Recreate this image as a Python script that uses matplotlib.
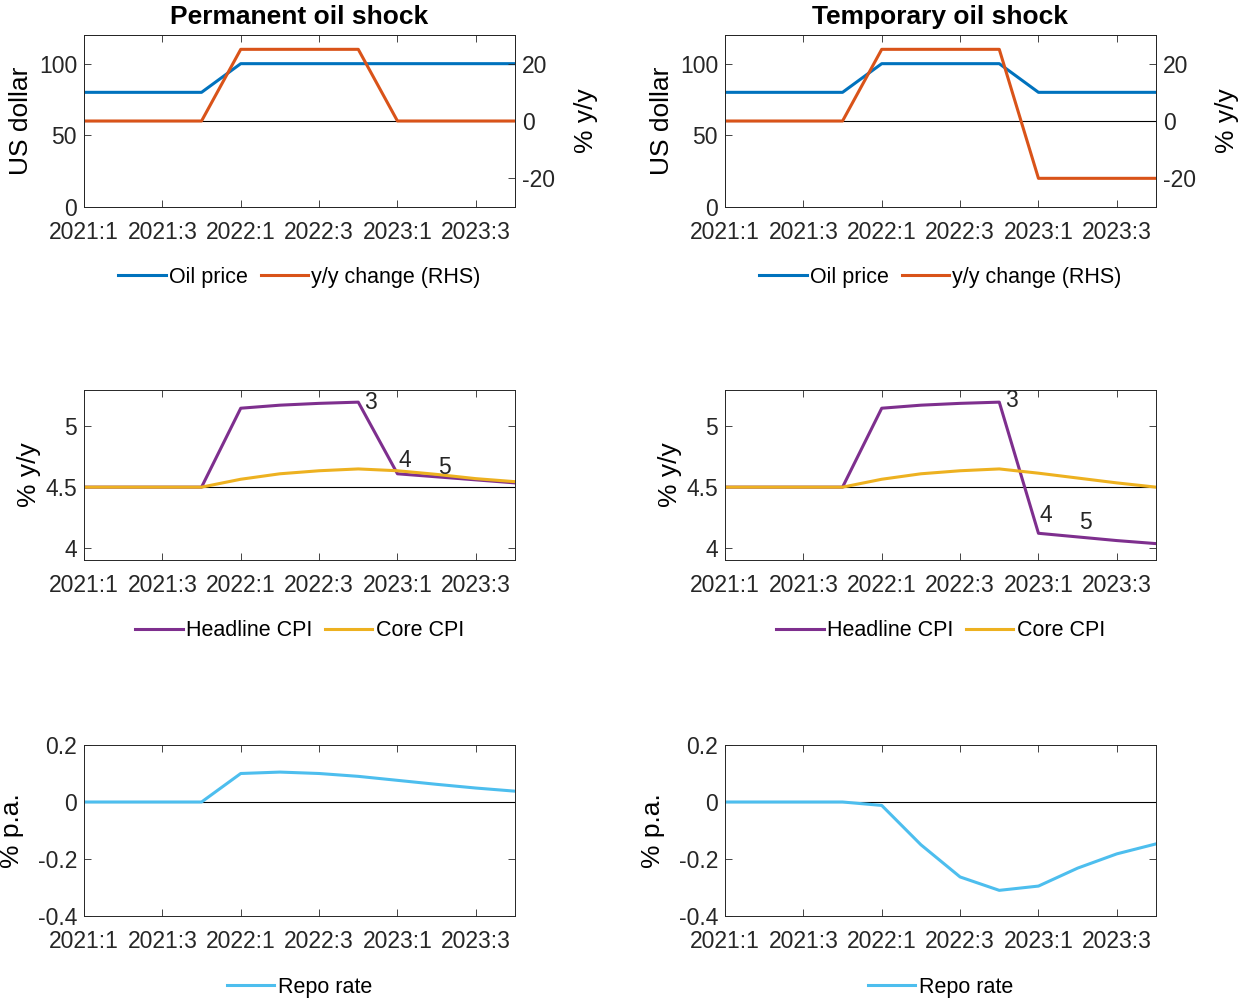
import matplotlib.pyplot as plt

plt.rcParams['font.family'] = ['Liberation Sans', 'DejaVu Sans']
plt.rcParams['font.size'] = 16
plt.rcParams['axes.unicode_minus'] = False

# Data (quarterly, 2021:1 - 2023:4)
quarters = ['2021:1', '2021:2', '2021:3', '2021:4', '2022:1', '2022:2', '2022:3', '2022:4',
            '2023:1', '2023:2', '2023:3', '2023:4']
tick_labels = ['2021:1', '2021:3', '2022:1', '2022:3', '2023:1', '2023:3']

oil_perm = [80, 80, 80, 80, 100, 100, 100, 100, 100, 100, 100, 100]
yy_perm = [0, 0, 0, 0, 25, 25, 25, 25, 0, 0, 0, 0]
oil_temp = [80, 80, 80, 80, 100, 100, 100, 100, 80, 80, 80, 80]
yy_temp = [0, 0, 0, 0, 25, 25, 25, 25, -20, -20, -20, -20]

head_perm = [4.5, 4.5, 4.5, 4.5, 5.15, 5.175, 5.19, 5.20, 4.61, 4.585, 4.56, 4.535]
core_perm = [4.5, 4.5, 4.5, 4.5, 4.565, 4.61, 4.635, 4.65, 4.635, 4.605, 4.57, 4.545]
head_temp = [4.5, 4.5, 4.5, 4.5, 5.15, 5.175, 5.19, 5.20, 4.12, 4.09, 4.06, 4.035]
core_temp = [4.5, 4.5, 4.5, 4.5, 4.565, 4.61, 4.635, 4.65, 4.615, 4.575, 4.535, 4.50]

repo_perm = [0, 0, 0, 0, 0.10, 0.105, 0.10, 0.09, 0.076, 0.062, 0.049, 0.038]
repo_temp = [0, 0, 0, 0, -0.012, -0.15, -0.263, -0.31, -0.295, -0.232, -0.182, -0.147]

# labels "3","4","5" next to headline CPI
lab_text = ['3', '4', '5']
lab_x = [7.3, 8.2, 9.2]
lab_y_perm = [5.20, 4.72, 4.665]
lab_y_temp = [5.21, 4.27, 4.205]

BLUE = '#0072BD'
ORANGE = '#D95319'
YELLOW = '#EDB120'
PURPLE = '#7E2F8E'
LBLUE = '#4DBEEE'
TXT = '#262626'

W, H = 1239, 999
fig = plt.figure(figsize=(W / 100, H / 100), dpi=100)

x = list(range(len(quarters)))
tick_pos = [quarters.index(t) for t in tick_labels]


def make_ax(left, top, right, bottom):
    ax = fig.add_axes([left / W, 1 - bottom / H, (right - left) / W, (bottom - top) / H])
    ax.set_xlim(0, 11)
    ax.set_xticks(tick_pos)
    ax.set_xticklabels(tick_labels)
    ax.tick_params(direction='in', top=True, right=True, length=5, width=0.6,
                   pad=5, colors=TXT, labelcolor=TXT, labelsize=16.5)
    ax.tick_params(axis='x', pad=10)
    for s in ax.spines.values():
        s.set_color(TXT)
        s.set_linewidth(0.7)
    return ax


def legend_below(ax, handles, labels, ypix):
    pos = ax.get_position()
    fig.legend(handles, labels, loc='center', ncol=len(labels), frameon=False,
               bbox_to_anchor=((pos.x0 + pos.x1) / 2, 1 - ypix / H),
               handlelength=2.2, handletextpad=0.15, columnspacing=0.6, fontsize=15.5)


cols = [(84, 515), (725, 1156)]
rows = [(35, 207), (390, 560), (745, 916)]
titles = ['Permanent oil shock', 'Temporary oil shock']
oils = [oil_perm, oil_temp]
yys = [yy_perm, yy_temp]
heads = [head_perm, head_temp]
cores = [core_perm, core_temp]
repos = [repo_perm, repo_temp]
lab_ys = [lab_y_perm, lab_y_temp]

for c, (l, r) in enumerate(cols):
    # Row 1: oil price
    ax = make_ax(l, rows[0][0], r, rows[0][1])
    ax.tick_params(right=False)
    h1, = ax.plot(x, oils[c], color=BLUE, lw=2.2)
    ax.set_ylim(0, 120)
    ax.set_yticks([0, 50, 100])
    ax.set_ylabel('US dollar', fontsize=19, labelpad=4)
    ax.set_title(titles[c], fontsize=19, fontweight='bold', pad=8)
    ax2 = ax.twinx()
    ax2.axhline(0, color='black', lw=0.8)
    h2, = ax2.plot(x, yys[c], color=ORANGE, lw=2.2)
    ax2.set_ylim(-30, 30)
    ax2.set_yticks([-20, 0, 20])
    ax2.tick_params(direction='in', length=5, width=0.6, pad=5, colors=TXT, labelsize=16.5)
    ax2.set_ylabel('% y/y', fontsize=19, labelpad=14)
    ax2.yaxis.label.set_rotation(90)
    for s in ax2.spines.values():
        s.set_color(TXT)
        s.set_linewidth(0.7)
    legend_below(ax, [h1, h2], ['Oil price', 'y/y change (RHS)'], 277)

    # Row 2: CPI
    ax = make_ax(l, rows[1][0], r, rows[1][1])
    ax.axhline(4.5, color='black', lw=0.8)
    h1, = ax.plot(x, heads[c], color=PURPLE, lw=2.2)
    h2, = ax.plot(x, cores[c], color=YELLOW, lw=2.2)
    ax.set_ylim(3.9, 5.3)
    ax.set_yticks([4, 4.5, 5])
    ax.set_yticklabels(['4', '4.5', '5'])
    ax.set_ylabel('% y/y', fontsize=19, labelpad=3)
    for t, tx, ty in zip(lab_text, lab_x, lab_ys[c]):
        ax.text(tx, ty, t, fontsize=16.5, ha='center', va='center', color=TXT)
    legend_below(ax, [h1, h2], ['Headline CPI', 'Core CPI'], 631)

    # Row 3: repo rate
    ax = make_ax(l, rows[2][0], r, rows[2][1])
    ax.axhline(0, color='black', lw=0.8)
    h1, = ax.plot(x, repos[c], color=LBLUE, lw=2.2)
    ax.set_ylim(-0.4, 0.2)
    ax.set_yticks([-0.4, -0.2, 0, 0.2])
    ax.set_yticklabels(['-0.4', '-0.2', '0', '0.2'])
    ax.set_ylabel('% p.a.', fontsize=19, labelpad=10)
    legend_below(ax, [h1], ['Repo rate'], 987)

fig.savefig('out.png', dpi=100)
